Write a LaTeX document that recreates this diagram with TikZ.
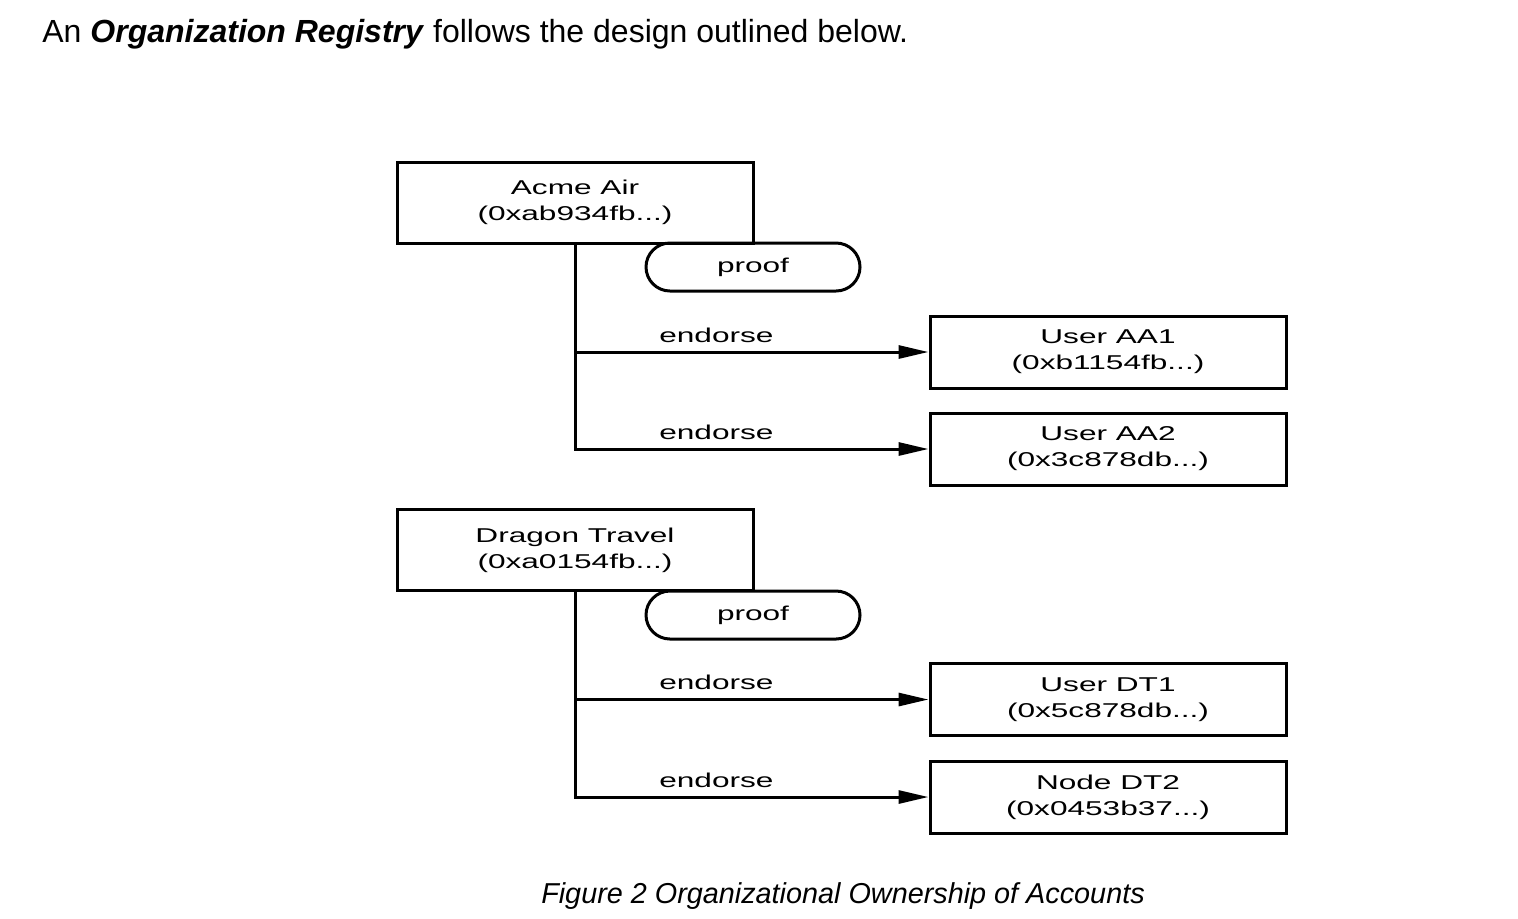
\documentclass[tikz,border=0pt]{standalone}
\usepackage{fontspec}
\setmainfont{Liberation Sans}
\newfontfamily\diagfont[FakeStretch=1.58]{Liberation Sans}
\usetikzlibrary{arrows.meta,positioning}

\begin{document}
\begin{tikzpicture}[x=0.5pt,y=-0.5pt,
  diagtext/.style={font=\diagfont\fontsize{10}{13}\selectfont},
  orgbox/.style={draw,diagtext,line width=1.5pt,minimum width=178pt,minimum height=40.5pt,inner sep=0pt,align=center},
  userbox/.style={orgbox,minimum height=36pt},
  proofbox/.style={draw,diagtext,line width=1.5pt,rounded corners=12pt,minimum width=107pt,minimum height=24pt,inner sep=0pt},
  trunk/.style={line width=1.5pt},
  endorse/.style={trunk,-{Triangle[length=15pt,width=6.5pt]}},
  lbl/.style={diagtext,above,inner sep=4pt}]
\useasboundingbox (0,0) rectangle (1518,918);

\node[anchor=base west,inner sep=0pt,font=\fontsize{16}{19}\selectfont] (head) at (42,42)
  {An \textbf{\textit{Organization Registry}} follows the design outlined below.};

% Acme Air
\node[orgbox] (acme) at (575,202.5) {Acme Air\\(0xab934fb...)};
\node[proofbox] (proofA) at (753,267) {proof};
\node[userbox] (aa1) at (1108,352) {User AA1\\(0xb1154fb...)};
\node[userbox] (aa2) at (1108,449) {User AA2\\(0x3c878db...)};
\draw[endorse] (acme.south) |- node[lbl,pos=0.7]{endorse} (aa2.west);
\draw[endorse] (acme.south |- aa1.west) -- node[lbl,pos=0.4]{endorse} (aa1.west);

% Dragon Travel
\node[orgbox] (dragon) at (575,550) {Dragon Travel\\(0xa0154fb...)};
\node[proofbox] (proofD) at (753,615) {proof};
\node[userbox] (dt1) at (1108,699.5) {User DT1\\(0x5c878db...)};
\node[userbox] (dt2) at (1108,797) {Node DT2\\(0x0453b37...)};
\draw[endorse] (dragon.south) |- node[lbl,pos=0.7]{endorse} (dt2.west);
\draw[endorse] (dragon.south |- dt1.west) -- node[lbl,pos=0.4]{endorse} (dt1.west);

\node[anchor=base,inner sep=0pt,font=\itshape\fontsize{14.4}{17}\selectfont] (caption) at (843,903)
  {Figure 2 Organizational Ownership of Accounts};
\end{tikzpicture}
\end{document}
